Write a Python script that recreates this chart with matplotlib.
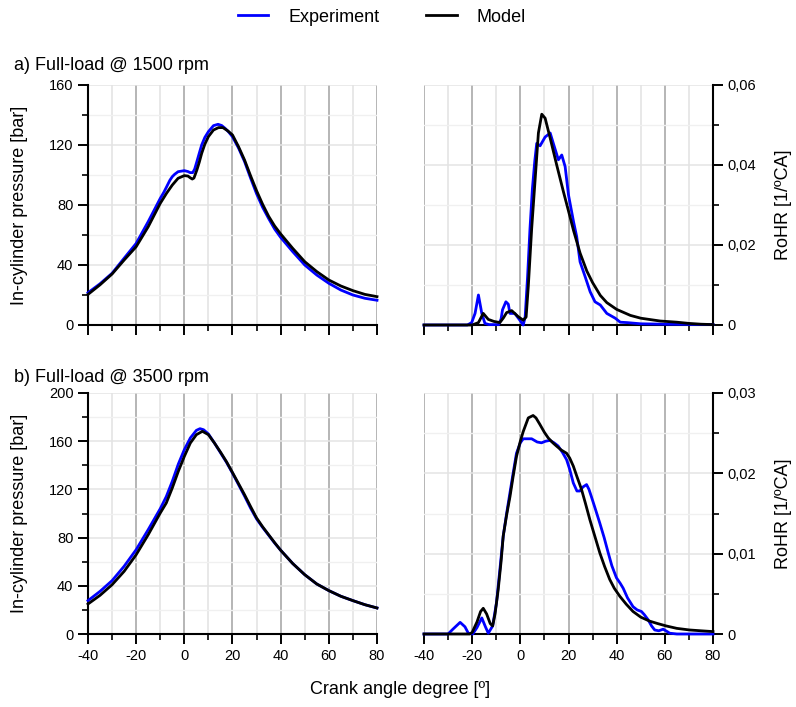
import matplotlib
matplotlib.use("Agg")
import matplotlib.pyplot as plt
from matplotlib.ticker import MultipleLocator, FuncFormatter

plt.rcParams['font.family'] = ['Liberation Sans', 'DejaVu Sans']
plt.rcParams['axes.unicode_minus'] = False

# ---------------- data ----------------
# a) 1500 rpm, in-cylinder pressure [bar]
p1_exp_x = [-40, -35, -30, -25, -20, -15, -10, -8.5, -7.4, -6, -5, -4, -2.6, 0, 1.5, 2.4, 3.5, 4.3, 5.2, 6.2, 7.2, 8.5, 10, 12.1, 14, 15.5, 17, 18.5, 20, 22.5, 25, 27.5, 30, 32.5, 35, 37.5, 40, 45, 50, 55, 60, 65, 70, 75, 80]
p1_exp_y = [21.5, 27.5, 34.5, 44.5, 54.4, 68.9, 84.4, 88.5, 92, 96.5, 98.9, 100.5, 102.2, 102.9, 102.3, 101.6, 101.6, 104, 108.9, 114.5, 120, 125, 128.9, 132.9, 133.8, 133, 131, 128.5, 125.5, 118, 109, 98, 87.5, 78.5, 71, 64, 58.4, 48.9, 40, 33.3, 27.8, 23.3, 20, 17.8, 16.5]
p1_mod_x = [-40, -35, -30, -25, -20, -15, -10, -7.4, -5, -2.6, 0, 1.5, 2.4, 3.3, 4, 5.2, 6.2, 7.2, 8.5, 10, 12.1, 14.2, 16, 18, 20, 22.5, 25, 27.5, 30, 32.5, 35, 37.5, 40, 45, 50, 55, 60, 65, 70, 75, 80]
p1_mod_y = [20.4, 26.8, 34, 43.3, 52.2, 65.5, 81.1, 87.8, 93.3, 97.8, 99.6, 99.3, 98.2, 97.3, 98, 103.3, 108.5, 114.4, 120.5, 125.6, 130, 131.6, 131.6, 129.5, 126.7, 118.9, 110, 99.5, 89.5, 80.5, 72.5, 66, 60.7, 51.1, 42.2, 35.6, 30, 26, 22.9, 20.4, 18.9]

# a) 1500 rpm, RoHR [1/ºCA]
r1_exp_x = [-40, -22, -20.2, -18.8, -17.4, -16, -14.7, -13, -9, -8, -7.4, -6, -5, -4.3, -2.3, -0.2, 1.2, 2, 3, 4, 5, 6, 6.8, 8.2, 10.3, 12.4, 13.7, 15.8, 17.2, 18.6, 20, 22.1, 23.4, 24.8, 26.9, 29, 31, 33.2, 35.9, 39.4, 41.5, 44.3, 50, 60, 80]
r1_exp_y = [0, 0, 0.0006, 0.0029, 0.0075, 0.0029, 0.0004, 0.0001, 0.0001, 0.0015, 0.0038, 0.0058, 0.0052, 0.0029, 0.0029, 0.0012, 0.0, 0.002, 0.012, 0.024, 0.034, 0.041, 0.0454, 0.0448, 0.047, 0.048, 0.0454, 0.0413, 0.0425, 0.0396, 0.0325, 0.0258, 0.0221, 0.0158, 0.0121, 0.0083, 0.0058, 0.005, 0.0029, 0.0017, 0.0007, 0.0006, 0.0003, 0.0002, 0.0001]
r1_mod_x = [-40, -20, -17.4, -15.4, -13.3, -11, -8.5, -7, -5.7, -3.6, -0.9, 1.2, 2.4, 3.3, 4.7, 6.1, 7.5, 8.9, 10.3, 12.4, 15.1, 17.9, 20, 22.1, 24.8, 27.6, 30, 33.2, 35.9, 40, 45.7, 50, 58, 65, 70, 75, 80]
r1_mod_y = [0, 0, 0.0006, 0.0029, 0.0014, 0.0009, 0.0006, 0.0018, 0.0031, 0.0036, 0.0021, 0.0012, 0.002, 0.0096, 0.024, 0.036, 0.048, 0.0527, 0.0517, 0.0467, 0.040, 0.0333, 0.0285, 0.0236, 0.018, 0.0135, 0.0106, 0.0074, 0.0056, 0.0039, 0.0024, 0.0017, 0.001, 0.0007, 0.0004, 0.0002, 0.0001]

# b) 3500 rpm, in-cylinder pressure [bar]
p2_exp_x = [-40, -35, -30, -25, -20, -15, -10, -7.5, -5, -2.5, 0, 2.5, 5, 6.5, 8, 10, 12.5, 15, 17.5, 20, 22.5, 25, 27.5, 30, 32.5, 35, 37.5, 40, 45, 50, 55, 60, 65, 70, 75, 80]
p2_exp_y = [27.7, 35.4, 44.3, 56.2, 70, 86.6, 104, 114, 126.7, 141, 153, 162.7, 169, 170.4, 169.5, 166, 158.5, 150.5, 142.5, 133.5, 124, 114.5, 104.5, 95.5, 88.5, 82, 75.5, 69.5, 58.5, 49.2, 41.5, 36, 31.3, 27.7, 24.3, 21.6]
p2_mod_x = [-40, -35, -30, -25, -20, -15, -10, -7.5, -5, -2.5, 0, 2.5, 5, 7.5, 10, 12.5, 15, 17.5, 20, 22.5, 25, 27.5, 30, 32.5, 35, 37.5, 40, 45, 50, 55, 60, 65, 70, 75, 80]
p2_mod_y = [24.9, 32.1, 40.9, 52, 65.8, 82.4, 100.4, 108.7, 121.2, 135, 147.4, 158.5, 165.4, 168.2, 165.4, 158.5, 151, 143, 134, 124.8, 115.6, 105.8, 96.3, 89, 82.4, 75.8, 69.5, 58.5, 49.2, 41.5, 36, 31.3, 27.7, 24.3, 21.6]

# b) 3500 rpm, RoHR [1/ºCA]
r2_exp_x = [-40, -30, -28, -25, -23, -21.6, -19.8, -18, -16, -14.5, -13.3, -11.5, -9.9, -8.5, -7.1, -5.7, -4.3, -3, -1.6, 0, 1.2, 4.7, 7, 8.8, 10.5, 12.3, 14, 15.7, 17.5, 19.2, 20.5, 22, 23.5, 24.7, 26, 27.5, 28.5, 29.5, 31, 33, 34.8, 36.5, 38, 39.9, 41.5, 42.7, 44.5, 46.8, 48.5, 50.3, 51.5, 53, 54.5, 55.8, 57.5, 59.3, 61, 62, 65, 80]
r2_exp_y = [0, 0, 0.0006, 0.00145, 0.0009, 0.0001, 0, 0.0008, 0.002, 0.0009, 0.0001, 0.001, 0.0039, 0.008, 0.0122, 0.015, 0.0176, 0.020, 0.0225, 0.0238, 0.0243, 0.0243, 0.0239, 0.0238, 0.024, 0.0241, 0.0238, 0.0234, 0.0226, 0.0217, 0.0205, 0.0188, 0.0178, 0.0178, 0.0183, 0.0186, 0.018, 0.0171, 0.0157, 0.0138, 0.012, 0.0101, 0.0085, 0.007, 0.0063, 0.0057, 0.0045, 0.0034, 0.003, 0.0028, 0.0024, 0.0018, 0.001, 0.0005, 0.0004, 0.0006, 0.0003, 0.0001, 0, 0]
r2_mod_x = [-40, -21, -20, -18, -16.5, -15.4, -14, -12.5, -11.5, -10.5, -9.2, -8, -7.1, -5.7, -4.3, -3, -1.6, 0, 1.2, 3.3, 5.3, 6.5, 8.1, 10, 11.6, 13.5, 15, 17, 19.2, 20.5, 22, 23.5, 25.4, 27, 28.9, 31, 33, 35, 37.1, 39, 41.3, 44, 46.8, 50, 53.7, 57, 60.6, 65, 70.3, 75, 80]
r2_mod_y = [0, 0, 0.0002, 0.0015, 0.0028, 0.0032, 0.0025, 0.0013, 0.001, 0.0025, 0.0055, 0.009, 0.0122, 0.0148, 0.0171, 0.0196, 0.0221, 0.024, 0.0252, 0.0269, 0.0272, 0.0269, 0.0261, 0.0251, 0.0244, 0.0238, 0.0234, 0.0229, 0.0225, 0.0219, 0.0209, 0.0196, 0.018, 0.0163, 0.0142, 0.0121, 0.0101, 0.0084, 0.0068, 0.0057, 0.0047, 0.0037, 0.0028, 0.0021, 0.0016, 0.0013, 0.001, 0.0007, 0.0005, 0.0004, 0.0003]

x_ticks = [-40, -20, 0, 20, 40, 60, 80]
titles = ["a) Full-load @ 1500 rpm", "b) Full-load @ 3500 rpm"]
series_names = ["Experiment", "Model"]

# ---------------- figure ----------------
W, H = 796, 707
fig = plt.figure(figsize=(W / 100, H / 100), dpi=100)

def fx(px):
    return px / W

def fy(py):
    return 1 - py / H

BLUE = "#0000ff"
BLACK = "#000000"
LW = 2.0

def comma_fmt(v, pos):
    if abs(v) < 1e-12:
        return "0"
    return f"{v:.2f}".replace(".", ",")

def style(ax, side, ymax, ymaj, ymin, show_xlabels, comma=False):
    ax.set_xlim(-40, 80)
    ax.set_ylim(0, ymax)
    ax.xaxis.set_major_locator(MultipleLocator(20))
    ax.xaxis.set_minor_locator(MultipleLocator(10))
    ax.yaxis.set_major_locator(MultipleLocator(ymaj))
    ax.yaxis.set_minor_locator(MultipleLocator(ymin))
    for s in ax.spines.values():
        s.set_visible(False)
    ax.spines['bottom'].set_visible(True)
    ax.spines['bottom'].set_linewidth(1.5)
    ax.spines[side].set_visible(True)
    ax.spines[side].set_linewidth(1.5)
    if side == 'right':
        ax.yaxis.tick_right()
    ax.tick_params(axis='both', which='major', direction='out', length=7, width=1.4,
                   labelsize=10.5, colors='black')
    ax.tick_params(axis='both', which='minor', direction='out', length=4, width=1.2)
    if not show_xlabels:
        ax.tick_params(axis='x', which='both', labelbottom=False)
    if comma:
        ax.yaxis.set_major_formatter(FuncFormatter(comma_fmt))
    ax.grid(True, axis='x', which='major', color='#b0b0b0', lw=1.3, zorder=0)
    ax.grid(True, axis='x', which='minor', color='#e2e2e2', lw=1.1, zorder=0)
    ax.grid(True, axis='y', which='major', color='#e4e4e4', lw=1.1, zorder=0)
    ax.grid(True, axis='y', which='minor', color='#f0f0f0', lw=1.0, zorder=0)
    ax.set_axisbelow(True)

left_x0, left_x1 = 88, 377
right_x0, right_x1 = 424, 713
top_y0, top_y1 = 85, 325
bot_y0, bot_y1 = 393, 634

def add_ax(x0, x1, y0, y1):
    return fig.add_axes([fx(x0), fy(y1), (x1 - x0) / W, (y1 - y0) / H])

ax1 = add_ax(left_x0, left_x1, top_y0, top_y1)
ax2 = add_ax(right_x0, right_x1, top_y0, top_y1)
ax3 = add_ax(left_x0, left_x1, bot_y0, bot_y1)
ax4 = add_ax(right_x0, right_x1, bot_y0, bot_y1)

style(ax1, 'left', 160, 40, 20, False)
style(ax2, 'right', 0.06, 0.02, 0.01, False, comma=True)
style(ax3, 'left', 200, 40, 20, True)
style(ax4, 'right', 0.03, 0.01, 0.005, True, comma=True)

for ax in (ax3, ax4):
    ax.set_xticks(x_ticks)

l_exp, = ax1.plot(p1_exp_x, p1_exp_y, color=BLUE, lw=LW, zorder=3)
l_mod, = ax1.plot(p1_mod_x, p1_mod_y, color=BLACK, lw=LW, zorder=4)
ax2.plot(r1_exp_x, r1_exp_y, color=BLUE, lw=LW, zorder=3)
ax2.plot(r1_mod_x, r1_mod_y, color=BLACK, lw=LW, zorder=4)
ax3.plot(p2_exp_x, p2_exp_y, color=BLUE, lw=LW, zorder=3)
ax3.plot(p2_mod_x, p2_mod_y, color=BLACK, lw=LW, zorder=4)
ax4.plot(r2_exp_x, r2_exp_y, color=BLUE, lw=LW, zorder=3)
ax4.plot(r2_mod_x, r2_mod_y, color=BLACK, lw=LW, zorder=4)

for ax in (ax1, ax2, ax3, ax4):
    for line in ax.get_lines():
        line.set_clip_on(False)

# legend
fig.legend([l_exp, l_mod], series_names, loc='center', bbox_to_anchor=(fx(382), fy(17)),
           ncol=2, frameon=False, fontsize=13, handlelength=1.7, handletextpad=1.1,
           columnspacing=2.6)

# titles
fig.text(fx(14), fy(65), titles[0], fontsize=13, va='center', ha='left')
fig.text(fx(14), fy(378), titles[1], fontsize=13, va='center', ha='left')

# axis labels
fig.text(fx(20), fy((top_y0 + top_y1) / 2), "In-cylinder pressure [bar]", rotation=90,
         fontsize=13, va='center', ha='center')
fig.text(fx(20), fy((bot_y0 + bot_y1) / 2), "In-cylinder pressure [bar]", rotation=90,
         fontsize=13, va='center', ha='center')
fig.text(fx(784), fy((top_y0 + top_y1) / 2), "RoHR [1/ºCA]", rotation=90,
         fontsize=13, va='center', ha='center')
fig.text(fx(784), fy((bot_y0 + bot_y1) / 2), "RoHR [1/ºCA]", rotation=90,
         fontsize=13, va='center', ha='center')
fig.text(fx(400), fy(690), "Crank angle degree [º]", fontsize=13, va='center', ha='center')

fig.savefig("out.png", dpi=100, facecolor='white')
